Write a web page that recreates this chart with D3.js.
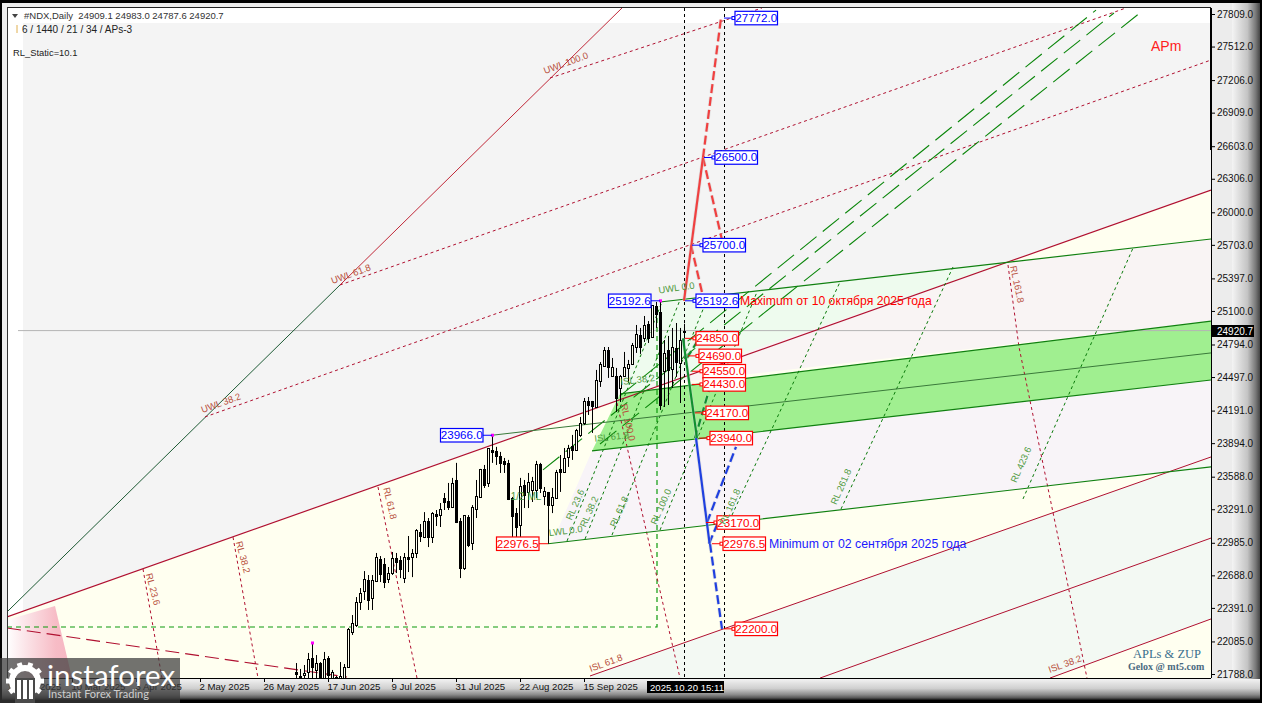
<!DOCTYPE html>
<html><head><meta charset="utf-8">
<script src="https://cdn.jsdelivr.net/npm/d3@7/dist/d3.min.js"></script>
<style>html,body{margin:0;padding:0;background:#000;overflow:hidden}svg{display:block}text{font-family:"Liberation Sans",Arial,sans-serif}</style>
</head><body><svg id="c" width="1262" height="703"></svg>
<script>
// ---- price axis and time axis
const priceTicks=[27809,27512,27206,26909,26603,26306,26000,25703,25397,25100,24794,24497,24191,23894,23588,23291,22985,22688,22391,22085,21788];
const dateBars=[-48,-32,-16,0,16,32,48,64,80,96];
const dateLabels=["14 Feb 2025","10 Mar 2025","3 Apr 2025","2 May 2025","26 May 2025","17 Jun 2025","9 Jul 2025","31 Jul 2025","22 Aug 2025","15 Sep 2025"];
const firstCandleBar=24, lastPrice=24920.7, cursorBar=121, guideBar=131;
// ---- daily candles
const candleOpen=[21806,21770,21779,21806,21934,21825,21888,21751,21934,21751,21761,21733,21751,21852,22171,22235,22445,22545,22645,22481,22636,22837,22791,22654,22709,22846,22828,22663,22855,22855,22892,23083,23037,23183,23037,23247,23238,23394,23366,23311,23558,23183,22755,23220,22983,23293,23403,23659,23531,23832,23823,23777,23732,23714,23394,23256,23147,23513,23449,23467,23467,23704,23412,23449,23329,23394,23659,23631,23768,23869,23832,23969,24078,24279,24279,24224,24461,24598,24744,24507,24507,24397,24507,24580,24616,24771,24881,24853,24981,24862,25145,25091,24552,24744,24571,24762,24625,24909.1];
const candleHigh=[21888,21834,21870,21980,22071,21961,21897,21989,21952,21825,21770,21897,21879,22208,22326,22490,22572,22727,22691,22691,22892,22864,22846,22764,22901,22892,22864,22892,23047,22928,23110,23156,23265,23211,23265,23284,23348,23439,23531,23577,23714,23211,23238,23238,23329,23558,23659,23695,23850,23966,23860,23814,23759,23741,23403,23302,23577,23558,23622,23586,23732,23714,23494,23449,23485,23650,23786,23850,23878,23969,24024,24133,24306,24315,24279,24562,24634,24771,24771,24671,24580,24516,24726,24653,24808,24972,24945,25054,25008,25154,25182,25192.6,24835,24872,24945,24990,24945,24983];
const candleLow=[21733,21733,21733,21733,21733,21733,21688,21688,21733,21733,21715,21715,21733,21843,22144,22217,22372,22463,22372,22372,22627,22627,22572,22618,22691,22709,22663,22618,22718,22672,22846,22992,23028,22946,22983,23138,23129,23284,23284,23302,23165,22663,22737,22946,22919,23211,23403,23485,23494,23714,23695,23622,23622,23375,23028,23028,23028,23302,23302,23357,23394,23439,23329,22976.5,23256,23394,23449,23622,23677,23741,23823,23951,24060,24151,23987,24224,24407,24589,24489,24498,24179,24270,24498,24443,24616,24717,24708,24817,24808,24853,24945,24197,24224,24242,24397,24498,24260,24787.6];
const candleClose=[21788,21761,21797,21925,21852,21888,21751,21925,21779,21806,21742,21770,21852,22199,22253,22445,22527,22654,22463,22645,22855,22700,22627,22709,22846,22809,22746,22855,22837,22892,23101,23047,23183,23037,23256,23229,23293,23357,23311,23531,23174,22755,23238,22965,23311,23412,23659,23513,23850,23814,23777,23714,23704,23385,23229,23129,23503,23421,23540,23549,23704,23485,23458,23329,23403,23631,23631,23759,23850,23832,24014,24078,24279,24242,24233,24470,24616,24744,24589,24589,24306,24507,24589,24616,24790,24890,24771,24972,24853,25154,25072,24242,24717,24562,24771,24634,24835,24920.7];
// ---- fan, channel and arc lines as bar index + price pairs
const redBars=[[-48.25,252.75],[97.5,252.75],[155,252.75],[212.5,252.75]];
const redPrices=[[22308,26203],[21770,23768],[21751,23028],[21751,22290]];
const uwlBars=[[87.5,140.5],[35,231.5],[1.25,252.75]];
const uwlPrices=[[27225,27864],[25337,27864],[24133,27389]];
const steepBars=[[-48.25,35],[35,105.5]];
const steepPrices=[[22354,25337],[25337,27864]];
const greenBars=[[115,252.75],[73,252.75],[105,252.75],[98,252.75],[87,252.75]];
const greenPrices=[[25182,25756],[23966,24717],[24343,25007],[23823,24470],[22976.5,23677]];
const arcBars=[[-14.25,-9.5],[8.25,14.5],[44.5,54.25],[104.25,120],[202,204.75,221.75]];
const arcPrices=[[22746,21751],[23037,21751],[23494,21751],[24260,21751],[25519,24771,21751]];
const rlGreenBars=[[205.75,233.25],[160.25,188.25],[133,160],[115,139.25],[103,127],[96.25,120],[91.75,115.5]];
const rlGreenPrices=[[23385,25674],[23293,25501],[23238,25364],[23101,25273],[23056,25227],[23019,25200],[23001,25182]];
const mlBars=[[105,224],[85.75,228.5],[100,235.25]];
const mlPrices=[[24325,27845],[23650,27818],[23886,27827]];
const boxBars=[-48.25,114.25,114.25], boxPrices=[22217,22217,25154];
const slopeBars=[-48.25,36.75], slopePrices=[22208,21761];
// ---- shaded zones
const zoneFrameBars=[-48.25,252.75,252.75,-48.25], zoneFramePrices=[27864,27864,26203,22308];
const zoneGreyBars=[-44.25,252.75,252.75,-44.25], zoneGreyPrices=[27727,27727,26203,22360];
const zonePaleBars=[105,115,202.75,111.5], zonePalePrices=[24343,25182,25547,24415];
const zonePinkBars=[111.5,202.75,252.75,252.75], zonePinkPrices=[24415,25547,25756,25007];
const zoneBandBars=[98,105,252.75,252.75], zoneBandPrices=[23823,24343,25007,24470];
const zoneLilacBars=[98,252.75,252.75,88], zoneLilacPrices=[23823,24470,23677,22985];
const zoneMintBars=[97.5,252.75,252.75,212.5,97.5], zoneMintPrices=[21770,23768,22290,21751,21751];
const zoneRoseBars=[-48.25,-36.25,-32,-48.25], zoneRosePrices=[22281,22408,21751,21751];
// ---- projected wave
const waveRedBars=[121,125.75], waveRedPrices=[25192.6,26500];
const waveRedDashBars=[[125.75,130.25],[125.75,130.5],[122.75,126]];
const waveRedDashPrices=[[26500,27772],[26500,25747],[25700,25192.6]];
const waveGreenBars=[120.75,124.25], waveGreenPrices=[24850,23940];
const waveGreenDashBars=[[123.75,128],[121.75,125]], waveGreenDashPrices=[[23940,24470],[24671,24862]];
const waveBlueBars=[124,127.4], waveBluePrices=[23940,22976.5];
const waveBlueDashBars=[[127.5,130.5],[126.75,134],[127.25,129.5]];
const waveBlueDashPrices=[[22976.5,22200],[23170,23860],[22976.5,23170]];
// ---- level tags
const tagPrices=[27772,26500,25700,25192.6,24850,24690,24550,24430,24170,23940,23170,22976.5,22200];
const tagBars=[131,126,123,121.25,121.25,122,123,123,123.75,124.75,126.5,128,131];
const tagBlue=[1,1,1,1,0,0,0,0,0,0,0,0,0];
const leftTagPrices=[25192.6,23966,22976.5], leftTagBars=[115,73,87], leftTagBlue=[1,1,0];
const pivotBars=[115,73,28], pivotPrices=[25192.6,23966,22071];
const headerText=["#NDX,Daily  24909.1 24983.0 24787.6 24920.7","6 / 1440 / 21 / 34 / APs-3","RL_Static=10.1"];
const maxNote="Maximum от 10 октября 2025 года", minNote="Minimum от 02 сентября 2025 года";
const crimsonNotes=[["UWL 100.0",567,63,-20],["UWL 61.8",352,274,-20],["UWL 38.2",222,403,-20],["RL 23.6",150,587,75],["RL 38.2",240,555,75],["RL 61.8",387,501,77],["RL 100.0",625,420,77],["RL 161.8",1014,282,78],["ISL 61.8",607,663,-20],["ISL 38.2",1066,664,-20]];
const greenNotes=[["UWL 0.0",677,288,-8],["ISL 38.2",638,380,-7],["ISL 61.8",612,437,-6],["1/2 ML",526,497,0],["LWL 0.0",566,531,-7],["RL 23.6",578,503,-66],["RL 38.2",592,510,-66],["RL 61.8",622,510,-66],["RL 100.0",664,505,-66],["RL 161.8",733,505,-66],["RL 261.8",844,485,-66],["RL 423.6",1024,463,-66]];

const svg=d3.select("#c");
const x=d3.scaleLinear().domain([-48.25,252.75]).range([7,1211]);
const y=d3.scaleLinear().domain([21788,27809]).range([674,14]);
const defs=svg.append("defs");
const grad=(id,x2,y2,stops)=>{const g=defs.append("linearGradient").attr("id",id).attr("x1",0).attr("y1",0).attr("x2",x2).attr("y2",y2);
  stops.forEach(s=>g.append("stop").attr("offset",s[0]).attr("stop-color",s[1]));};
grad("bezR",1,0,[[0,"#f4f4f4"],[.55,"#c4c4c4"],[.85,"#777"],[1,"#444"]]);
grad("bezB",0,1,[[0,"#f2f2f2"],[.45,"#cfcfcf"],[.75,"#8a8a8a"],[.9,"#555"],[1,"#111"]]);
grad("rose",1,0,[[0,"#ffffff"],[.3,"#fbe3e7"],[.75,"#f7bcc6"],[1,"#f6b6c2"]]);
defs.append("clipPath").attr("id","plot").append("rect").attr("x",7).attr("y",8).attr("width",1204).attr("height",670);

// bezel
svg.append("rect").attr("width",1262).attr("height",703).attr("fill","#000");
svg.append("rect").attr("x",2).attr("y",3).attr("width",1258).attr("height",697).attr("fill","#ececec");
svg.append("rect").attr("x",1232).attr("y",3).attr("width",28).attr("height",697).attr("fill","url(#bezR)");
svg.append("rect").attr("x",2).attr("y",679).attr("width",1258).attr("height",21).attr("fill","url(#bezB)");

const plot=svg.append("g").attr("clip-path","url(#plot)");
plot.append("rect").attr("x",7).attr("y",8).attr("width",1204).attr("height",670).attr("fill","#fffff0");
const zone=(bs,ps,fill)=>plot.append("polygon").attr("points",bs.map((b,i)=>[x(b),y(ps[i])].join(",")).join(" ")).attr("fill",fill);
zone(zoneFrameBars,zoneFramePrices,"#ffffff");
zone(zoneGreyBars,zoneGreyPrices,"#f4f4f4");
zone(zoneRoseBars,zoneRosePrices,"url(#rose)");
zone(zoneLilacBars,zoneLilacPrices,"#f8f4f8");
zone(zoneMintBars,zoneMintPrices,"#f3f9f3");
zone(zonePaleBars,zonePalePrices,"#eefbee");
zone(zonePinkBars,zonePinkPrices,"#f9f4f4");
zone(zoneBandBars,zoneBandPrices,"#a0ef90");

const lineGen=d3.line().x(d=>x(d[0])).y(d=>y(d[1]));
const path=(bs,ps,color,w,dash,g=plot)=>g.append("path").attr("d",lineGen(bs.map((b,i)=>[b,ps[i]]))).attr("fill","none").attr("stroke",color).attr("stroke-width",w).attr("stroke-dasharray",dash||null);
// price line
path([-45.5,252.75],[lastPrice,lastPrice],"#b4b4b4",1);
// guides
path(boxBars,boxPrices,"#0c9a0c",1.2,"5,4");
path(slopeBars,slopePrices,"#b01030",1.1,"14,6");
steepBars.forEach((b,i)=>path(b,steepPrices[i],i?"#c02838":"#1d5a34",1));
redBars.forEach((b,i)=>path(b,redPrices[i],"#b01030",i?1:1.2));
uwlBars.forEach((b,i)=>path(b,uwlPrices[i],"#b01030",1,"3,3"));
arcBars.forEach((b,i)=>path(b,arcPrices[i],"#b01030",1,"3,3"));
rlGreenBars.forEach((b,i)=>path(b,rlGreenPrices[i],"#0a7a0a",1,"3,3"));
mlBars.forEach((b,i)=>path(b,mlPrices[i],"#0a860a",1.1,"21,8"));
greenBars.forEach((b,i)=>path(b,greenPrices[i],i==1?"#3a7a3a":"#108010",i==1?1:1.15));

// guide verticals
[cursorBar,guideBar].forEach(b=>plot.append("line").attr("x1",x(b)+.5).attr("x2",x(b)+.5).attr("y1",8).attr("y2",678).attr("stroke","#000").attr("stroke-dasharray","3,3"));

// candles
const cg=plot.append("g");
candleOpen.forEach((o,i)=>{const c=candleClose[i],b=firstCandleBar+i,X=x(b);
  cg.append("line").attr("x1",X+.5).attr("x2",X+.5).attr("y1",y(candleHigh[i])).attr("y2",y(candleLow[i])).attr("stroke","#000");
  const t=Math.round(y(Math.max(o,c))),h=Math.max(1,Math.round(y(Math.min(o,c)))-t);
  cg.append("rect").attr("x",X-.5).attr("width",2).attr("y",t+.5).attr("height",h)
    .attr("fill",c>=o?"#fffff0":"#000").attr("stroke","#000").attr("stroke-width",1);
});
pivotBars.forEach((b,i)=>plot.append("rect").attr("x",x(b)-1).attr("y",y(pivotPrices[i])-1.5).attr("width",3).attr("height",3).attr("fill","#ff00ff"));

// wave
const halo=(bs,ps,c,w,d)=>{path(bs,ps,"#d0d0d0",w+1.5,d).attr("opacity",.5);path(bs,ps,c,w,d);};
waveRedDashBars.forEach((b,i)=>halo(b,waveRedDashPrices[i],"#f04040",2.2,"9,4"));
halo(waveRedBars,waveRedPrices,"#f04040",2.2);
waveGreenDashBars.forEach((b,i)=>halo(b,waveGreenDashPrices[i],"#109030",2.2,"8,4"));
halo(waveGreenBars,waveGreenPrices,"#109030",2.2);
waveBlueDashBars.forEach((b,i)=>halo(b,waveBlueDashPrices[i],"#2040e0",2.2,"9,4"));
halo(waveBlueBars,waveBluePrices,"#2040e0",2.2);

// level tags
const tag=(bar,price,blue,left)=>{const c=blue?"#0000ff":"#ff0000",X=x(bar),Y=y(price),w=42.5,h=13.5;
  const bx=left?X-9-w:X+11;
  const g=svg.append("g");
  g.append("line").attr("x1",X).attr("x2",left?bx+w:bx).attr("y1",Y).attr("y2",Y).attr("stroke",c);
  if(!left)g.append("rect").attr("x",bx-3).attr("y",Y-1.5).attr("width",3).attr("height",3).attr("fill","#fff").attr("stroke",c);
  g.append("rect").attr("x",bx).attr("y",Y-h/2).attr("width",w).attr("height",h).attr("fill","#fff").attr("stroke",c).attr("stroke-width",1.2);
  g.append("text").attr("x",bx+w/2).attr("y",Y+4).attr("text-anchor","middle").attr("font-size",11.6).attr("fill",c).text(price.toFixed(1));
};
tagPrices.forEach((p,i)=>tag(tagBars[i],p,tagBlue[i],false));
leftTagPrices.forEach((p,i)=>tag(leftTagBars[i],p,leftTagBlue[i],true));

// notes
const note=(t,px,py,size,fill,rot=0,fam)=>svg.append("text").attr("transform",`translate(${px},${py}) rotate(${rot})`).attr("text-anchor","middle").attr("font-size",size).attr("fill",fill).style("font-family",fam||null).text(t);
crimsonNotes.forEach(n=>note(n[0],n[1],n[2]+3,9.4,"#b8503c",n[3]));
greenNotes.forEach(n=>note(n[0],n[1],n[2]+3,n[0]=="1/2 ML"?10:9.4,"#4f9a3e",n[3]));
svg.append("text").attr("x",740).attr("y",305).attr("font-size",12.2).attr("fill","#ff0000").text(maxNote);
svg.append("text").attr("x",769).attr("y",548).attr("font-size",12.3).attr("fill","#1a1aff").text(minNote);
svg.append("text").attr("x",1151).attr("y",51).attr("font-size",14).attr("fill","#ff2020").text("APm");
svg.append("text").attr("x",1133).attr("y",658).attr("font-size",12.5).attr("fill","#3a6f8c").style("font-family","Liberation Serif").text("APLs & ZUP");
svg.append("text").attr("x",1128).attr("y",670).attr("font-size",10).attr("fill","#4a6a80").style("font-family","Liberation Serif").style("font-weight","bold").text("Gelox @ mt5.com");

// header
svg.append("path").attr("d",d3.line()([[12,14],[18,14],[15,18]])+"Z").attr("fill","#444");
svg.append("text").attr("x",24).attr("y",19).attr("xml:space","preserve").style("white-space","pre").attr("font-size",9.5).attr("fill","#333").text(headerText[0]);
svg.append("line").attr("x1",17).attr("x2",17).attr("y1",25).attr("y2",33).attr("stroke","#e0b050");
svg.append("text").attr("x",22).attr("y",32.5).attr("font-size",10).attr("fill","#222").text(headerText[1]);
svg.append("text").attr("x",13).attr("y",56).attr("font-size",9.4).attr("fill","#222").text(headerText[2]);

// axes
const ax=svg.append("g").attr("transform","translate(1211,0)").call(d3.axisRight(y).tickValues(priceTicks).tickSize(4).tickFormat(d=>d.toFixed(1)));
ax.select(".domain").attr("d","M0.5,8V678");
ax.selectAll("text").attr("x",6).attr("font-size",10).attr("fill","#111");
svg.append("rect").attr("x",1210).attr("y",8).attr("width",2).attr("height",142).attr("fill","#000");
const bx=svg.append("g").attr("transform","translate(0,678)").call(d3.axisBottom(x).tickValues(dateBars).tickSize(4).tickFormat((d,i)=>dateLabels[i]));
bx.select(".domain").attr("d","M7,0.5H1211");
bx.selectAll("text").attr("text-anchor","start").attr("x",-1).attr("y",5).attr("font-size",9.6).attr("fill","#111");
svg.append("rect").attr("x",7).attr("y",7).attr("width",1204).attr("height",1).attr("fill","#222");
svg.append("rect").attr("x",7).attr("y",7).attr("width",1).attr("height",671).attr("fill","#333");
svg.append("rect").attr("x",1212).attr("y",325).attr("width",42).attr("height",12).attr("fill","#000");
svg.append("text").attr("x",1217).attr("y",335).attr("font-size",10).attr("fill","#fff").text(lastPrice.toFixed(1));
svg.append("rect").attr("x",647).attr("y",681).attr("width",77).attr("height",12).attr("fill","#000");
svg.append("text").attr("x",650).attr("y",690.5).attr("font-size",9.6).attr("fill","#fff").text("2025.10.20 15:11");

// logo
const logo=svg.append("g");
logo.append("rect").attr("x",0).attr("y",658).attr("width",180).attr("height",45).attr("fill","#3c3c3c").attr("fill-opacity",.72);
logo.append("circle").attr("cx",25).attr("cy",681).attr("r",13).attr("fill","none").attr("stroke","#fff").attr("stroke-width",6);
d3.range(10).forEach(i=>{const a=i*Math.PI/5;logo.append("line").attr("x1",25+13*Math.cos(a)).attr("y1",681+13*Math.sin(a)).attr("x2",25+19*Math.cos(a)).attr("y2",681+19*Math.sin(a)).attr("stroke","#fff").attr("stroke-width",5);});
logo.append("rect").attr("x",15).attr("y",678).attr("width",20).attr("height",25).attr("fill","#4a4a4a");
[17,23,29].forEach(px=>logo.append("rect").attr("x",px).attr("y",680).attr("width",4).attr("height",19).attr("fill","#fff"));
logo.append("text").attr("x",47).attr("y",686).attr("font-size",29.5).attr("fill","#fff").style("font-family","Lato").text("instaforex");
logo.append("text").attr("x",48).attr("y",698).attr("font-size",11).attr("fill","#cfcfcf").style("font-family","Lato").text("Instant Forex Trading");
</script></body></html>
